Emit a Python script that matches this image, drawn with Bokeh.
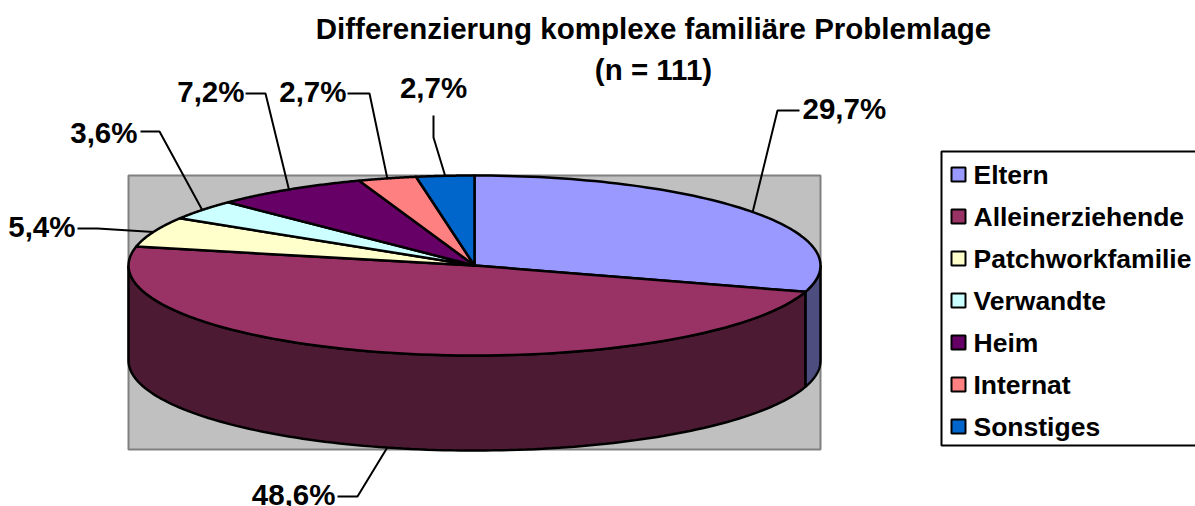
import numpy as np
from bokeh.plotting import figure
from bokeh.models import Range1d
from bokeh.core.properties import value
from bokeh.embed import file_html
from bokeh.resources import INLINE

title_lines = ["Differenzierung komplexe familiäre Problemlage", "(n = 111)"]
categories = ["Eltern", "Alleinerziehende", "Patchworkfamilie", "Verwandte", "Heim", "Internat", "Sonstiges"]
shares = [29.7, 48.6, 5.4, 3.6, 7.2, 2.7, 2.7]
share_labels = ["29,7%", "48,6%", "5,4%", "3,6%", "7,2%", "2,7%", "2,7%"]
top_colors = ["#9999FF", "#993366", "#FFFFCC", "#CCFFFF", "#660066", "#FF8080", "#0066CC"]
side_colors = ["#4D4D80", "#4D1A33"]

# layout (picture pixels)
FONT = value("Liberation Sans")
CX, CY, RX, RY, DEPTH = 474, 265, 346, 90, 95
# per slice: label anchor x, y, align, elbow points from label to the pie
label_layout = [
    (802, 108, "left", [(799, 110), (777, 110)]),
    (335, 494, "right", [(337, 496), (357, 496)]),
    (75, 226, "right", [(77, 228), (97, 228)]),
    (137, 132, "right", [(140, 131), (159, 131)]),
    (244, 91, "right", [(245, 93), (265, 93)]),
    (346, 91, "right", [(347, 93), (369, 93)]),
    (433, 87, "center", [(433, 115), (433, 137)]),
]

p = figure(width=1195, height=506, output_backend="svg", toolbar_location=None,
           x_range=Range1d(0, 1195), y_range=Range1d(506, 0),
           x_axis_type=None, y_axis_type=None, min_border=0,
           outline_line_color=None, background_fill_color="white", border_fill_color="white")
p.grid.visible = False


def pt(theta_deg, dy=0.0):
    t = np.radians(theta_deg)
    return CX + RX * np.sin(t), CY - RY * np.cos(t) + dy


# plot area
p.quad(left=128, right=820, top=175, bottom=449, fill_color="#C0C0C0", line_color="#808080", line_width=2)

edges = np.concatenate([[0], np.cumsum(shares)]) / sum(shares) * 360

# side walls: visible parts of Eltern and Alleinerziehende
for a, b, col in [(90, edges[1], side_colors[0]), (edges[1], 270, side_colors[1])]:
    th = np.linspace(a, b, 120)
    x0, y0 = pt(th)
    x1, y1 = pt(th[::-1], DEPTH)
    p.patch(np.concatenate([x0, x1]), np.concatenate([y0, y1]), fill_color=col, line_color="black", line_width=2.5)

# top wedges
for i, col in enumerate(top_colors):
    th = np.linspace(edges[i], edges[i + 1], 80)
    x, y = pt(th)
    p.patch(np.concatenate([[CX], x]), np.concatenate([[CY], y]), fill_color=col, line_color="black",
            line_width=2.5, line_join="round")

# leader lines and value labels
for i, (lx, ly, align, pts) in enumerate(label_layout):
    mid = (edges[i] + edges[i + 1]) / 2
    ex, ey = pt(mid, DEPTH if i == 1 else 0)
    xs = [q[0] for q in pts] + [ex]
    ys = [q[1] for q in pts] + [ey]
    p.line(xs, ys, line_color="black", line_width=2)
    p.text(x=[lx], y=[ly], text=[share_labels[i]], text_font=FONT, text_font_style="bold",
           text_font_size="29.5px", text_align=align, text_baseline="middle", text_color="black")

# title
p.text(x=[653, 653], y=[28, 69], text=title_lines, text_font=FONT, text_font_style="bold",
       text_font_size="29.5px", text_align="center", text_baseline="middle", text_color="black")

# legend
p.quad(left=941, right=1205, top=151, bottom=445, fill_color="white", line_color="black", line_width=2)
rows = [174 + 42 * i for i in range(len(categories))]
p.rect(x=[958] * len(rows), y=rows, width=14, height=14, fill_color=top_colors, line_color="black", line_width=2)
p.text(x=[973] * len(rows), y=rows, text=categories, text_font=FONT, text_font_style="bold",
       text_font_size="26.5px", text_align="left", text_baseline="middle", text_color="black")

open("out.html", "w").write(file_html(p, INLINE))
